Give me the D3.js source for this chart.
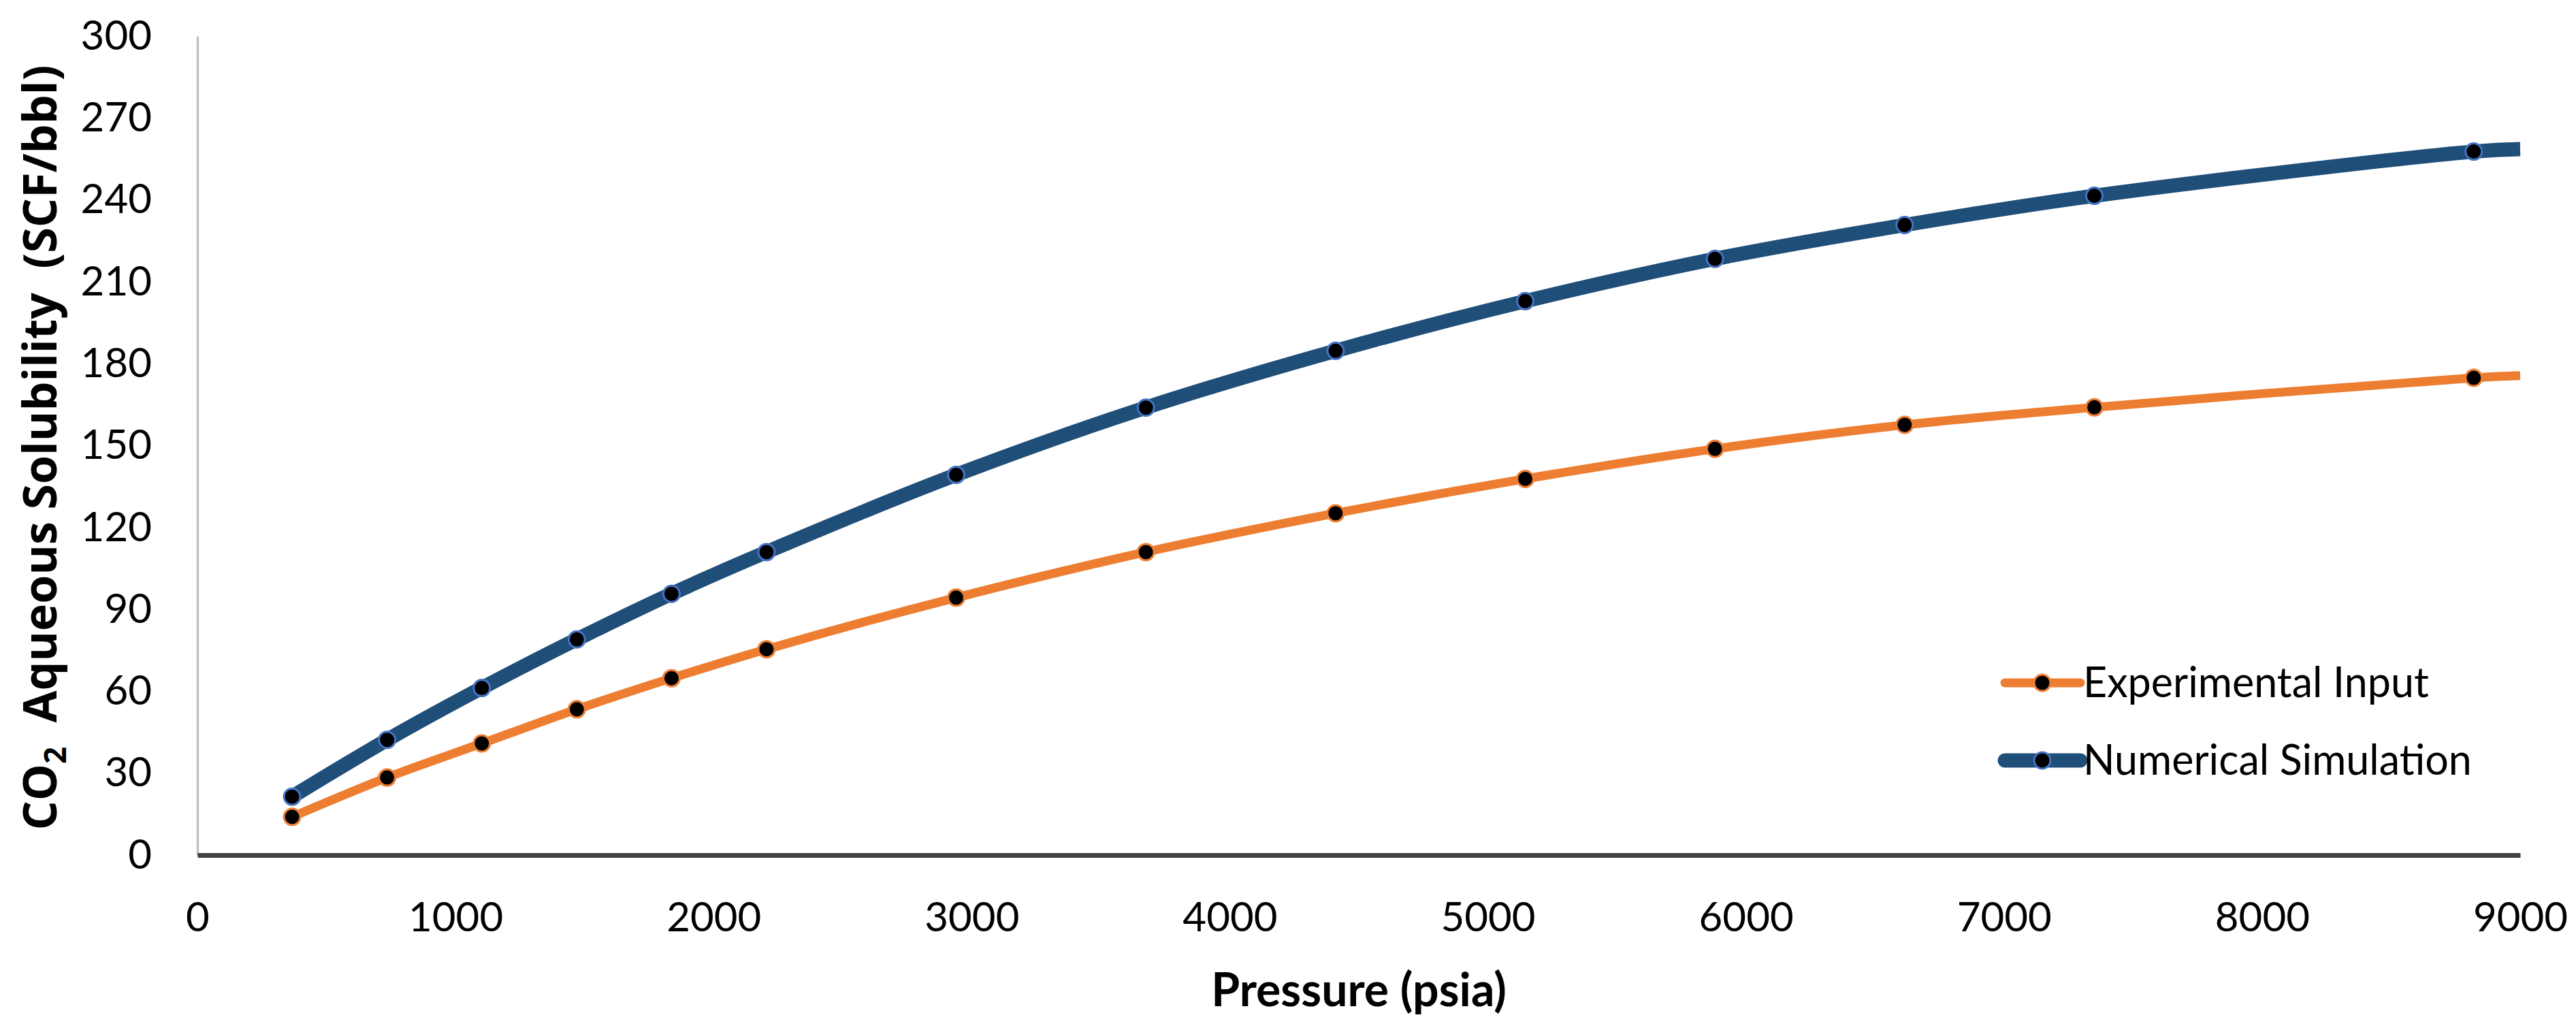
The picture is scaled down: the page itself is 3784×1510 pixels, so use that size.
<!DOCTYPE html>
<html>
<head>
<meta charset="utf-8">
<script src="https://cdn.jsdelivr.net/npm/d3@7"></script>
<style>
  html, body { margin: 0; padding: 0; background: #ffffff; }
  svg { display: block; }
</style>
</head>
<body>
<svg id="chart" width="3784" height="1510"></svg>
<script>
// ---- Data ----
const pressure = [367, 735, 1102, 1470, 1837, 2205, 2940, 3675, 4410, 5145, 5880, 6615, 7350, 8820];
const experimental = [14.0, 28.4, 40.9, 53.4, 64.8, 75.4, 94.3, 111.0, 125.2, 137.8, 148.8, 157.6, 164.0, 174.8];
const numerical = [21.4, 42.2, 61.2, 79.0, 95.7, 111.0, 139.3, 163.9, 184.7, 202.9, 218.4, 230.8, 241.5, 257.7];
// the curves continue (without a marker) to the end of the x axis
const endPressure = 9000;
const experimentalEnd = 175.6;
const numericalEnd = 258.6;

const xTicks = [0, 1000, 2000, 3000, 4000, 5000, 6000, 7000, 8000, 9000];
const yTicks = [0, 30, 60, 90, 120, 150, 180, 210, 240, 270, 300];
const seriesNames = ["Experimental Input", "Numerical Simulation"];

// ---- Layout ----
const W = 3784, H = 1510;
const plot = { left: 290, right: 3702, top: 53, bottom: 1256 };
const tickFont = "Lato, 'Open Sans', sans-serif";

const svg = d3.select("#chart");
svg.append("rect").attr("width", W).attr("height", H).attr("fill", "#ffffff");

const x = d3.scaleLinear().domain([0, 9000]).range([plot.left, plot.right]);
const y = d3.scaleLinear().domain([0, 300]).range([plot.bottom, plot.top]);

// Y axis
const yAxis = svg.append("g")
  .attr("transform", `translate(${plot.left},0)`)
  .call(d3.axisLeft(y).tickValues(yTicks).tickSize(0).tickPadding(67).tickFormat(d3.format("d")));
yAxis.select(".domain").attr("stroke", "#BFBFBF").attr("stroke-width", 3.3);
yAxis.selectAll("text")
  .attr("font-family", tickFont).attr("font-size", 60).attr("fill", "#000000");

// X axis
const xAxis = svg.append("g")
  .attr("transform", `translate(0,${plot.bottom})`)
  .call(d3.axisBottom(x).tickValues(xTicks).tickSize(0).tickPadding(69).tickFormat(d3.format("d")));
xAxis.select(".domain").attr("stroke", "#404040").attr("stroke-width", 7);
xAxis.selectAll("text")
  .attr("font-family", tickFont).attr("font-size", 60).attr("fill", "#000000");

// Series
const series = [
  { name: seriesNames[0], xs: pressure, ys: experimental, endY: experimentalEnd,
    color: "#ED7D31", ring: "#ED7D31", width: 13 },
  { name: seriesNames[1], xs: pressure, ys: numerical, endY: numericalEnd,
    color: "#1F4E79", ring: "#4472C4", width: 21 }
];

const line = d3.line()
  .x(d => x(d[0]))
  .y(d => y(d[1]))
  .curve(d3.curveCatmullRom.alpha(0.5));

series.forEach(s => {
  const pts = s.xs.map((p, i) => [p, s.ys[i]]);
  const linePts = pts.concat([[endPressure, s.endY]]);
  svg.append("path")
    .datum(linePts)
    .attr("d", line)
    .attr("fill", "none")
    .attr("stroke", s.color)
    .attr("stroke-width", s.width)
    .attr("stroke-linejoin", "round")
    .attr("stroke-linecap", "butt");
  svg.append("g").selectAll("circle")
    .data(pts)
    .join("circle")
    .attr("cx", d => x(d[0]))
    .attr("cy", d => y(d[1]))
    .attr("r", 12)
    .attr("fill", "#000000")
    .attr("stroke", s.ring)
    .attr("stroke-width", 3);
});

// Legend
const legend = svg.append("g");
const legendRows = [
  { s: series[0], cy: 1003 },
  { s: series[1], cy: 1117 }
];
legendRows.forEach(r => {
  legend.append("line")
    .attr("x1", 2945).attr("x2", 3056)
    .attr("y1", r.cy).attr("y2", r.cy)
    .attr("stroke", r.s.color).attr("stroke-width", r.s.width)
    .attr("stroke-linecap", "round");
  legend.append("circle")
    .attr("cx", 3000).attr("cy", r.cy).attr("r", 12)
    .attr("fill", "#000000").attr("stroke", r.s.ring).attr("stroke-width", 3);
  legend.append("text")
    .attr("x", 3060).attr("y", r.cy).attr("dy", "0.35em")
    .attr("font-family", tickFont).attr("font-size", 61)
    .attr("fill", "#000000")
    .text(r.s.name);
});

// X axis title
svg.append("text")
  .attr("x", (plot.left + plot.right) / 2)
  .attr("y", 1478)
  .attr("text-anchor", "middle")
  .attr("font-family", tickFont)
  .attr("font-weight", "bold")
  .attr("font-size", 68)
  .attr("fill", "#000000")
  .text("Pressure (psia)");

// Y axis title with subscript
const yTitle = svg.append("text")
  .attr("transform", `translate(83,${(plot.top + plot.bottom) / 2 + 3}) rotate(-90)`)
  .attr("text-anchor", "middle")
  .attr("font-family", "'Open Sans', 'Noto Sans', sans-serif")
  .attr("font-weight", "bold")
  .attr("font-size", 68)
  .attr("fill", "#000000")
  .attr("xml:space", "preserve")
  .style("white-space", "pre");
yTitle.append("tspan").text("CO");
yTitle.append("tspan").attr("font-size", 44).attr("dy", 14).text("2");
yTitle.append("tspan").attr("dy", -14).text("  Aqueous Solubility  (SCF/bbl)");
</script>
</body>
</html>
